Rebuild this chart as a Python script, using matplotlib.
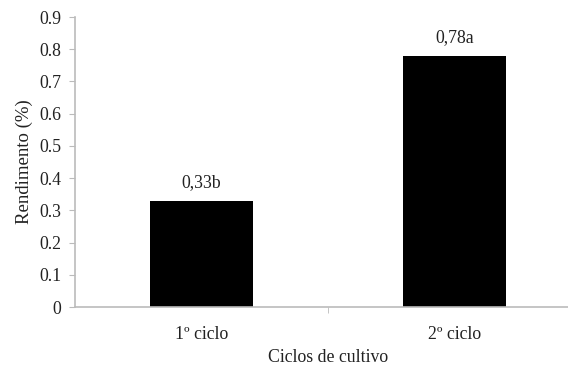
import matplotlib
matplotlib.use("Agg")
import matplotlib.pyplot as plt

categories = ["1º ciclo", "2º ciclo"]
values = [0.33, 0.78]
labels = ["0,33b", "0,78a"]
yticks = [0, 0.1, 0.2, 0.3, 0.4, 0.5, 0.6, 0.7, 0.8, 0.9]
ytick_labels = ["0", "0.1", "0.2", "0.3", "0.4", "0.5", "0.6", "0.7", "0.8", "0.9"]

plt.rcParams['font.family'] = ['Liberation Serif', 'DejaVu Serif']

fig = plt.figure(figsize=(5.68, 3.70), dpi=100)
ax = fig.add_axes([75/568, 1-307/370, (581-75)/568, (307-17)/370])

fs = 12.8
x = list(range(len(categories)))
ax.bar(x, values, width=0.41, color='black')
for xi, v, lab in zip(x, values, labels):
    ax.text(xi, v + 0.03, lab, ha='center', va='bottom', fontsize=fs, color='#222222')

ax.set_xlim(-0.5, 1.5)
ax.set_ylim(0, 0.9)
ax.set_yticks(yticks)
ax.set_yticklabels(ytick_labels, fontsize=fs, color='#222222')
ax.set_xticks(x)
ax.set_xticklabels(categories, fontsize=fs, color='#222222')
ax.set_xticks([0.5], minor=True)
ax.tick_params(axis='x', which='major', length=0, pad=14)
ax.tick_params(axis='x', which='minor', length=4, color='#bbbbbb', direction='out')
ax.tick_params(axis='y', length=4, color='#bbbbbb', direction='out', pad=6)

for s in ['top', 'right']:
    ax.spines[s].set_visible(False)
for s in ['left', 'bottom']:
    ax.spines[s].set_color('#bbbbbb')
    ax.spines[s].set_linewidth(1.2)

ax.set_ylabel("Rendimento (%)", fontsize=13.5, color='#222222', labelpad=4)
ax.set_xlabel("Ciclos de cultivo", fontsize=fs, color='#222222', labelpad=4)

fig.savefig("out.png", dpi=100)
